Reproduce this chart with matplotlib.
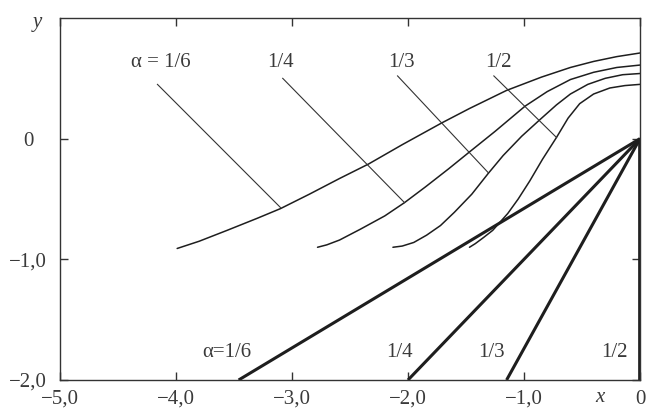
import matplotlib
matplotlib.use("Agg")
import matplotlib.pyplot as plt

plt.rcParams["font.family"] = ["Liberation Serif", "DejaVu Serif"]

# thin curves (x, y)
curve_16_x = [-3.99, -3.80, -3.56, -3.30, -3.10, -2.85, -2.59, -2.34, -2.05, -1.71,
              -1.47, -1.15, -0.85, -0.60, -0.40, -0.20, 0.0]
curve_16_y = [-0.91, -0.85, -0.76, -0.66, -0.58, -0.46, -0.33, -0.21, -0.05, 0.13,
              0.25, 0.40, 0.51, 0.59, 0.64, 0.68, 0.71]

curve_14_x = [-2.78, -2.70, -2.59, -2.41, -2.20, -2.03, -1.85, -1.65, -1.47, -1.25,
              -0.99, -0.80, -0.60, -0.40, -0.20, 0.0]
curve_14_y = [-0.90, -0.88, -0.84, -0.75, -0.64, -0.53, -0.40, -0.25, -0.11, 0.06,
              0.27, 0.39, 0.49, 0.55, 0.59, 0.61]

curve_13_x = [-2.13, -2.05, -1.95, -1.84, -1.72, -1.60, -1.45, -1.31, -1.18, -1.02,
              -0.86, -0.72, -0.60, -0.45, -0.30, -0.15, 0.0]
curve_13_y = [-0.90, -0.89, -0.86, -0.80, -0.72, -0.61, -0.46, -0.29, -0.14, 0.02,
              0.16, 0.28, 0.37, 0.45, 0.50, 0.53, 0.54]

curve_12_x = [-1.47, -1.42, -1.35, -1.27, -1.14, -1.05, -0.95, -0.84, -0.72, -0.62,
              -0.52, -0.40, -0.26, -0.13, 0.0]
curve_12_y = [-0.90, -0.87, -0.82, -0.76, -0.62, -0.50, -0.35, -0.17, 0.01, 0.17,
              0.29, 0.37, 0.42, 0.44, 0.45]

curves = [(curve_16_x, curve_16_y), (curve_14_x, curve_14_y),
          (curve_13_x, curve_13_y), (curve_12_x, curve_12_y)]

# thick rays from the origin: x where each ray meets y = -2
ray_end_x = [-3.46, -2.00, -1.15, 0.0]
ray_end_y = -2.0

# leader lines from labels to curves
leader_x0 = [-4.16, -3.08, -2.09, -1.26]
leader_y0 = [0.45, 0.50, 0.52, 0.52]
leader_x1 = [-3.10, -2.03, -1.31, -0.72]
leader_y1 = [-0.57, -0.53, -0.28, 0.01]

top_labels = ["α = 1/6", "1/4", "1/3", "1/2"]
top_label_x = [-4.13, -3.10, -2.06, -1.22]
top_label_y = 0.63
bottom_labels = ["α=1/6", "1/4", "1/3", "1/2"]
bottom_label_x = [-3.56, -2.07, -1.28, -0.22]
bottom_label_y = -1.77

x_ticks = [-5, -4, -3, -2, -1, 0]
x_tick_labels = ["−5,0", "−4,0", "−3,0", "−2,0", "−1,0", "0"]
y_ticks = [-2, -1, 0]
y_tick_labels = ["−2,0", "−1,0", "0"]

ink = "#1e1e1e"
text_col = "#3a3a3a"
fs = 15

fig = plt.figure(figsize=(6.48, 4.12), dpi=100)
ax = fig.add_axes([60 / 648, 32 / 412, 580 / 648, 362 / 412])

for cx, cy in curves:
    ax.plot(cx, cy, color=ink, lw=1.1, solid_capstyle="round", solid_joinstyle="round")

for xe in ray_end_x:
    lw = 3.4 if xe == 0.0 else 2.2
    ax.plot([0, xe], [0, ray_end_y], color=ink, lw=lw, solid_capstyle="butt")

for x0, y0, x1, y1 in zip(leader_x0, leader_y0, leader_x1, leader_y1):
    ax.plot([x0, x1], [y0, y1], color="#333333", lw=0.8)

for t, tx in zip(top_labels, top_label_x):
    ax.text(tx, top_label_y, t, ha="center", va="center", fontsize=fs, color=text_col)
for t, tx in zip(bottom_labels, bottom_label_x):
    ax.text(tx, bottom_label_y, t, ha="center", va="center", fontsize=fs, color=text_col)

ax.set_xlim(-5, 0)
ax.set_ylim(-2, 1)
ax.set_xticks(x_ticks)
ax.set_xticklabels(x_tick_labels)
ax.set_yticks(y_ticks)
ax.set_yticklabels(y_tick_labels)
ax.tick_params(direction="in", length=6, width=1, color="#333333",
               top=True, right=True, labelsize=fs, labelcolor=text_col)
ax.tick_params(axis="x", pad=7)
ax.tick_params(axis="y", pad=23)
for lab in ax.get_yticklabels():
    lab.set_horizontalalignment("center")
for s in ax.spines.values():
    s.set_linewidth(1.0)
    s.set_color("#333333")

fig.text(37 / 648, 1 - 22 / 412, "y", ha="center", va="center",
         fontsize=fs, style="italic", color=text_col)
fig.text(600 / 648, 1 - 397 / 412, "x", ha="center", va="center",
         fontsize=fs, style="italic", color=text_col)

fig.savefig("out.png", dpi=100, facecolor="white")
